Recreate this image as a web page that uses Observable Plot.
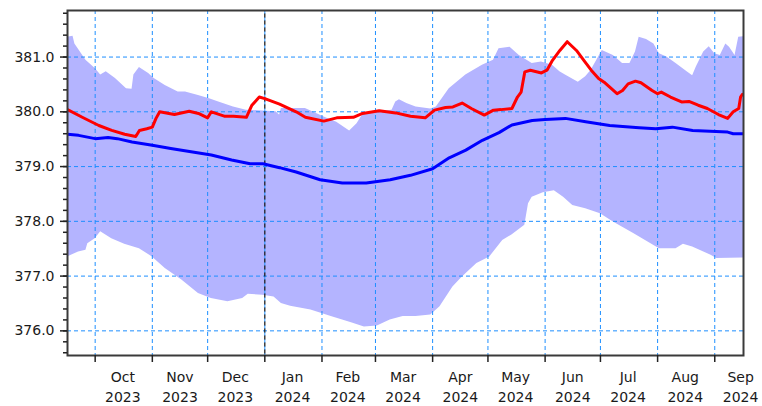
<!DOCTYPE html>
<html>
<head>
<meta charset="utf-8">
<script src="https://cdn.jsdelivr.net/npm/d3@7"></script>
<script src="https://cdn.jsdelivr.net/npm/@observablehq/plot@0.6"></script>
<style>
  html, body { margin: 0; padding: 0; background: #fff; }
  #chart { width: 762px; height: 406px; }
</style>
</head>
<body>
<div id="chart"></div>
<script>
// ---- Data ----
const bandUpper = [
  ["2023-09-16",381.36],["2023-09-19",381.38],["2023-09-20",381.24],["2023-09-26",380.94],
  ["2023-10-01",380.79],["2023-10-04",380.67],["2023-10-07",380.73],["2023-10-12",380.61],
  ["2023-10-18",380.42],["2023-10-21",380.41],["2023-10-22",380.67],["2023-10-25",380.81],
  ["2023-10-30",380.70],["2023-11-02",380.61],["2023-11-08",380.48],["2023-11-15",380.36],
  ["2023-11-19",380.36],["2023-11-26",380.30],["2023-12-02",380.24],["2023-12-07",380.18],
  ["2023-12-15",380.09],["2023-12-22",380.03],["2024-01-07",380.00],["2024-01-09",379.94],
  ["2024-01-10",380.06],["2024-01-23",380.06],["2024-01-29",379.97],["2024-02-04",379.88],
  ["2024-02-09",379.81],["2024-02-16",379.65],["2024-02-20",379.78],["2024-02-23",379.94],
  ["2024-03-02",380.00],["2024-03-10",380.03],["2024-03-12",380.18],["2024-03-14",380.22],
  ["2024-03-18",380.15],["2024-03-23",380.09],["2024-03-31",380.05],["2024-04-03",380.09],
  ["2024-04-10",380.42],["2024-04-19",380.67],["2024-04-28",380.85],["2024-05-04",380.94],
  ["2024-05-07",381.15],["2024-05-13",381.18],["2024-05-18",381.03],["2024-05-25",380.88],
  ["2024-05-30",380.91],["2024-06-05",380.85],["2024-06-09",380.73],["2024-06-12",380.67],
  ["2024-06-19",380.54],["2024-06-23",380.64],["2024-06-26",380.76],["2024-07-01",381.06],
  ["2024-07-02",381.12],["2024-07-08",381.03],["2024-07-13",380.88],["2024-07-17",380.88],
  ["2024-07-20",381.09],["2024-07-22",381.36],["2024-07-26",381.32],["2024-07-30",381.24],
  ["2024-08-02",381.06],["2024-08-06",381.00],["2024-08-11",380.88],["2024-08-17",380.73],
  ["2024-08-20",380.66],["2024-08-22",380.82],["2024-08-26",381.09],["2024-08-29",381.19],
  ["2024-09-01",381.06],["2024-09-04",381.03],["2024-09-07",381.24],["2024-09-09",381.18],
  ["2024-09-12",381.03],["2024-09-14",381.36],["2024-09-17",381.37]
];

const bandLower = [
  ["2023-09-16",377.35],["2023-09-22",377.44],["2023-09-26",377.47],["2023-09-27",377.59],
  ["2023-10-01",377.68],["2023-10-04",377.81],["2023-10-10",377.68],["2023-10-17",377.58],
  ["2023-10-25",377.50],["2023-11-01",377.35],["2023-11-08",377.14],["2023-11-17",376.93],
  ["2023-11-26",376.68],["2023-12-03",376.59],["2023-12-12",376.53],["2023-12-20",376.59],
  ["2023-12-23",376.67],["2023-12-31",376.65],["2024-01-06",376.62],["2024-01-10",376.50],
  ["2024-01-15",376.45],["2024-01-26",376.38],["2024-02-06",376.26],["2024-02-17",376.15],
  ["2024-02-24",376.07],["2024-03-02",376.09],["2024-03-09",376.20],["2024-03-16",376.26],
  ["2024-03-23",376.26],["2024-03-31",376.29],["2024-04-05",376.44],["2024-04-12",376.80],
  ["2024-04-17",376.98],["2024-04-25",377.23],["2024-05-02",377.35],["2024-05-09",377.65],
  ["2024-05-14",377.75],["2024-05-21",377.93],["2024-05-23",378.32],["2024-05-25",378.44],
  ["2024-05-31",378.52],["2024-06-06",378.56],["2024-06-11",378.44],["2024-06-16",378.29],
  ["2024-06-23",378.23],["2024-07-01",378.14],["2024-07-08",377.99],["2024-07-19",377.78],
  ["2024-08-02",377.50],["2024-08-11",377.50],["2024-08-15",377.58],["2024-08-20",377.53],
  ["2024-08-30",377.38],["2024-09-02",377.32],["2024-09-17",377.33]
];

const meanLine = [
  ["2023-09-16",379.59],["2023-09-22",379.57],["2023-10-01",379.51],["2023-10-08",379.53],
  ["2023-10-13",379.51],["2023-10-21",379.45],["2023-11-01",379.39],["2023-11-11",379.33],
  ["2023-11-22",379.27],["2023-12-03",379.21],["2023-12-14",379.12],["2023-12-24",379.05],
  ["2023-12-31",379.05],["2024-01-09",378.98],["2024-01-18",378.90],["2024-01-31",378.76],
  ["2024-02-12",378.70],["2024-02-25",378.70],["2024-03-09",378.76],["2024-03-20",378.84],
  ["2024-04-01",378.96],["2024-04-10",379.16],["2024-04-19",379.30],["2024-04-28",379.48],
  ["2024-05-07",379.62],["2024-05-14",379.76],["2024-05-25",379.84],["2024-06-01",379.86],
  ["2024-06-12",379.88],["2024-06-23",379.82],["2024-07-06",379.75],["2024-07-22",379.71],
  ["2024-07-31",379.69],["2024-08-09",379.72],["2024-08-20",379.66],["2024-09-08",379.63],
  ["2024-09-11",379.60],["2024-09-16",379.60]
];

const currentLine = [
  ["2023-09-16",380.04],["2023-09-24",379.90],["2023-10-03",379.75],["2023-10-10",379.66],
  ["2023-10-17",379.59],["2023-10-23",379.55],["2023-10-25",379.66],["2023-10-29",379.69],
  ["2023-11-01",379.72],["2023-11-03",379.88],["2023-11-05",380.00],["2023-11-10",379.97],
  ["2023-11-13",379.95],["2023-11-21",380.01],["2023-11-26",379.97],["2023-12-01",379.89],
  ["2023-12-03",380.00],["2023-12-10",379.92],["2023-12-15",379.92],["2023-12-22",379.90],
  ["2023-12-25",380.12],["2023-12-29",380.27],["2024-01-01",380.24],["2024-01-09",380.14],
  ["2024-01-18",380.00],["2024-01-23",379.90],["2024-02-02",379.83],["2024-02-09",379.89],
  ["2024-02-18",379.90],["2024-02-23",379.97],["2024-03-03",380.02],["2024-03-12",379.98],
  ["2024-03-20",379.92],["2024-03-28",379.89],["2024-04-02",380.03],["2024-04-08",380.08],
  ["2024-04-12",380.09],["2024-04-17",380.16],["2024-04-22",380.06],["2024-04-29",379.94],
  ["2024-05-04",380.03],["2024-05-08",380.04],["2024-05-14",380.06],["2024-05-17",380.27],
  ["2024-05-19",380.36],["2024-05-21",380.73],["2024-05-24",380.76],["2024-05-30",380.71],
  ["2024-06-02",380.76],["2024-06-05",380.94],["2024-06-09",381.12],["2024-06-13",381.28],
  ["2024-06-18",381.12],["2024-06-22",380.94],["2024-06-26",380.76],["2024-06-30",380.61],
  ["2024-07-03",380.54],["2024-07-10",380.33],["2024-07-13",380.39],["2024-07-16",380.51],
  ["2024-07-20",380.56],["2024-07-23",380.53],["2024-07-29",380.39],["2024-08-01",380.33],
  ["2024-08-03",380.36],["2024-08-08",380.27],["2024-08-14",380.18],["2024-08-18",380.19],
  ["2024-08-23",380.12],["2024-08-28",380.06],["2024-09-03",379.95],["2024-09-08",379.88],
  ["2024-09-11",380.00],["2024-09-14",380.06],["2024-09-15",380.27],["2024-09-16",380.32]
];

// ---- Axis ticks / labels ----
const monthStarts = ["2023-10-01","2023-11-01","2023-12-01","2024-01-01","2024-02-01","2024-03-01",
  "2024-04-01","2024-05-01","2024-06-01","2024-07-01","2024-08-01","2024-09-01"];
const monthMids = ["2023-10-16","2023-11-16","2023-12-16","2024-01-16","2024-02-15","2024-03-16",
  "2024-04-16","2024-05-16","2024-06-16","2024-07-16","2024-08-16","2024-09-15"];
const monthLabels = ["Oct\n2023","Nov\n2023","Dec\n2023","Jan\n2024","Feb\n2024","Mar\n2024",
  "Apr\n2024","May\n2024","Jun\n2024","Jul\n2024","Aug\n2024","Sep\n2024"];
const yMajor = [376, 377, 378, 379, 380, 381];
const yMinor = [375.6,375.8,376.0,376.2,376.4,376.6,376.8,377.0,377.2,377.4,377.6,377.8,378.0,
  378.2,378.4,378.6,378.8,379.0,379.2,379.4,379.6,379.8,380.0,380.2,380.4,380.6,380.8,381.0,
  381.2,381.4,381.6,381.8];
const yearBoundary = ["2024-01-01"];

const toDate = s => new Date(s + "T00:00:00Z");
const X = d => toDate(d[0]);
const Y = d => d[1];
const midDates = monthMids.map(toDate);
const labelFor = d => {
  const i = midDates.findIndex(m => +m === +d);
  return i >= 0 ? monthLabels[i] : "";
};

const gridStyle = {stroke: "#1e8fff", strokeOpacity: 1, strokeWidth: 1, strokeDasharray: "4,3"};

const chart = Plot.plot({
  width: 762,
  height: 406,
  marginLeft: 67,
  marginRight: 19,
  marginTop: 10,
  marginBottom: 51,
  style: {fontFamily: "DejaVu Sans, sans-serif", fontSize: "14px", color: "#1a1a1a", background: "#fff", overflow: "visible"},
  x: {type: "utc", domain: [toDate("2023-09-16"), new Date("2024-09-16T14:00:00Z")]},
  y: {domain: [375.55, 381.85]},
  marks: [
    Plot.areaY(bandUpper, {x: X, y: Y, fill: "#b4b4ff", clip: true}),
    Plot.areaY(bandLower, {x: X, y: Y, fill: "#ffffff", clip: true}),
    Plot.gridX(monthStarts.map(toDate), gridStyle),
    Plot.gridY(yMajor, gridStyle),
    Plot.ruleX(yearBoundary.map(toDate), {stroke: "#111", strokeWidth: 1.2, strokeDasharray: "4,3", strokeDashoffset: 3.5}),
    Plot.line(meanLine, {x: X, y: Y, stroke: "#0000ff", strokeWidth: 3, clip: true}),
    Plot.line(currentLine, {x: X, y: Y, stroke: "#ff0000", strokeWidth: 3, clip: true}),
    Plot.frame({stroke: "#3a3a3a", strokeWidth: 2}),
    Plot.axisY({ticks: yMinor, tickSize: 4, tickFormat: () => "", label: null, stroke: "#222", strokeWidth: 1.5}),
    Plot.axisY({ticks: yMajor, tickSize: 7, tickPadding: 6, tickFormat: d3.format(".1f"), label: null, stroke: "#222", strokeWidth: 1.5}),
    Plot.axisX({ticks: monthStarts.map(toDate), tickSize: 7, tickFormat: () => "", label: null, stroke: "#222", strokeWidth: 1.5}),
    Plot.axisX({ticks: midDates, tickSize: 0, tickPadding: 13, tickFormat: labelFor, lineHeight: 1.38, label: null})
  ]
});

document.getElementById("chart").appendChild(chart);
</script>
</body>
</html>
